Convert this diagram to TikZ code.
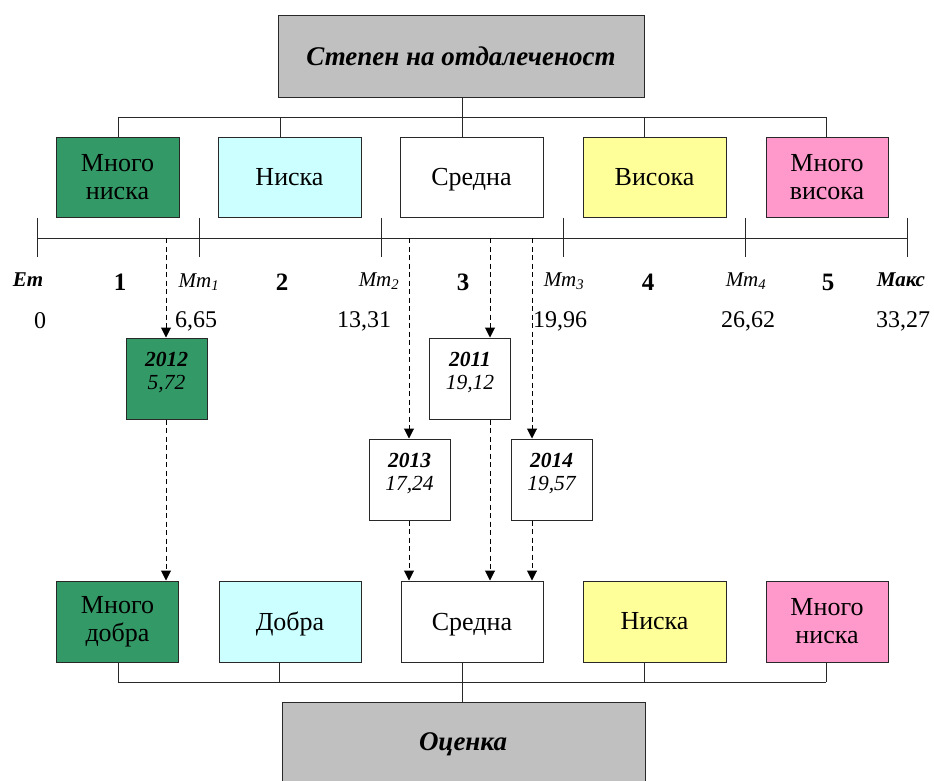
\documentclass[tikz,border=0pt]{standalone}
\usepackage{fontspec}
\setmainfont{Liberation Serif}
\usetikzlibrary{arrows.meta,calc}
\definecolor{cgreen}{RGB}{51,153,102}
\definecolor{ccyan}{RGB}{204,255,255}
\definecolor{cyellow}{RGB}{255,255,153}
\definecolor{cpink}{RGB}{255,153,204}
\definecolor{cgray}{RGB}{192,192,192}
\definecolor{cline}{RGB}{40,40,40}
\begin{document}
\begin{tikzpicture}[x=1pt,y=-1pt,
  box/.style={draw=cline, line width=1pt, inner sep=0pt, align=center,
    font=\fontsize{26}{28}\selectfont},
  big/.style={box, minimum height=80pt},
  yearbox/.style={draw=cline, line width=1pt, inner sep=0pt, fill=white,
    minimum width=81pt, minimum height=81pt},
  yeartext/.style={align=center, inner sep=0pt, font=\fontsize{21.5}{23}\selectfont\itshape},
  conn/.style={draw=cline, line width=1pt},
  dasharrow/.style={draw=black, line width=1pt, dash pattern=on 5pt off 3.5pt,
    -{Triangle[width=10pt,length=10pt]}},
  axislabel/.style={inner sep=0pt, font=\fontsize{21}{24}\selectfont\itshape},
  boldlabel/.style={inner sep=0pt, font=\fontsize{21}{24}\selectfont\bfseries\itshape},
  classnum/.style={inner sep=0pt, font=\fontsize{25}{28}\selectfont\bfseries},
  valnum/.style={inner sep=0pt, font=\fontsize{24}{27}\selectfont},
  headtext/.style={inner sep=0pt, font=\fontsize{27}{30}\selectfont\bfseries\itshape},
]
\clip (0,0) rectangle (934,780);
\fill[white] (0,0) rectangle (934,780);

% title
\node[box, fill=cgray, minimum width=366pt, minimum height=82pt,
  font=\fontsize{27}{30}\selectfont\bfseries\itshape] (title) at (461,56) {Степен на отдалеченост};

% top row
\node[big, fill=cgreen, minimum width=123pt] (t1) at (117.5,177) {Много\\ниска};
\node[big, fill=ccyan, minimum width=143pt] (t2) at (289.5,177) {Ниска};
\node[big, fill=white, minimum width=143pt, text depth=0pt] (t3) at (471.5,177) {Средна};
\node[big, fill=cyellow, minimum width=143pt] (t4) at (654.5,177) {Висока};
\node[big, fill=cpink, minimum width=122pt] (t5) at (827,177) {Много\\висока};

\coordinate (h1) at (118,117);
\coordinate (h2) at (280,117);
\coordinate (h3) at (462,117);
\coordinate (h4) at (644,117);
\coordinate (h5) at (826,117);
\draw[conn] (title.south -| h3) -- (h3);
\draw[conn] (h1) -- (h5);
\draw[conn] (h1) -- (h1 |- t1.north);
\draw[conn] (h2) -- (h2 |- t2.north);
\draw[conn] (h3) -- (h3 |- t3.north);
\draw[conn] (h4) -- (h4 |- t4.north);
\draw[conn] (h5) -- (h5 |- t5.north);

% axis
\coordinate (k0) at (37,238);
\coordinate (k1) at (199,238);
\coordinate (k2) at (381,238);
\coordinate (k3) at (563,238);
\coordinate (k4) at (745,238);
\coordinate (k5) at (907,238);
\draw[conn] (k0) -- (k5);
\foreach \k in {k0,k1,k2,k3,k4,k5}
  \draw[conn] ($(\k)+(0,-20)$) -- ($(\k)+(0,19)$);

\node[boldlabel] (lEm) at (28,280) {Ет};
\node[classnum] (c1) at (120,282) {1};
\node[axislabel] (lM1) at (199,282) {Мт\textsubscript{1}};
\node[classnum] (c2) at (282,282) {2};
\node[axislabel] (lM2) at (379,281) {Мт\textsubscript{2}};
\node[classnum] (c3) at (463,282) {3};
\node[axislabel] (lM3) at (564,281) {Мт\textsubscript{3}};
\node[classnum] (c4) at (648,282) {4};
\node[axislabel] (lM4) at (746,281) {Мт\textsubscript{4}};
\node[classnum] (c5) at (828,282) {5};
\node[boldlabel] (lMax) at (901,280) {Макс};

\node[valnum] (v0) at (40,321) {0};
\node[valnum] (v1) at (196,321) {6,65};
\node[valnum] (v2) at (364,321) {13,31};
\node[valnum] (v3) at (560,321) {19,96};
\node[valnum] (v4) at (748,321) {26,62};
\node[valnum] (v5) at (903,321) {33,27};

% year boxes
\node[yearbox, fill=cgreen] (y2012) at (166.5,378.5) {};
\node[yeartext] (t2012) at (166.5,372) {\textbf{2012}\\5,72};
\node[yearbox] (y2011) at (470,378.5) {};
\node[yeartext] (t2011) at (470,372) {\textbf{2011}\\19,12};
\node[yearbox] (y2013) at (409.5,479.5) {};
\node[yeartext] (t2013) at (409.5,473) {\textbf{2013}\\17,24};
\node[yearbox] (y2014) at (551.5,479.5) {};
\node[yeartext] (t2014) at (551.5,473) {\textbf{2014}\\19,57};

% bottom row
\node[big, fill=cgreen, minimum width=122pt, minimum height=81pt] (b1) at (117.5,621.5) {Много\\добра};
\node[big, fill=ccyan, minimum width=142pt, minimum height=81pt, text depth=0pt] (b2) at (290,621.5) {Добра};
\node[big, fill=white, minimum width=142pt, minimum height=81pt, text depth=0pt] (b3) at (472,621.5) {Средна};
\node[big, fill=cyellow, minimum width=143pt, minimum height=81pt] (b4) at (654.5,621.5) {Ниска};
\node[big, fill=cpink, minimum width=122pt, minimum height=81pt] (b5) at (827,621.5) {Много\\ниска};

% dashed arrows
\coordinate (a1) at (166,238);
\coordinate (a2) at (409,238);
\coordinate (a3) at (490,238);
\coordinate (a4) at (532,238);
\draw[dasharrow] (a1) -- (a1 |- y2012.north);
\draw[dasharrow] (a1 |- y2012.south) -- (a1 |- b1.north);
\draw[dasharrow] (a2) -- (a2 |- y2013.north);
\draw[dasharrow] (a2 |- y2013.south) -- (a2 |- b3.north);
\draw[dasharrow] (a3) -- (a3 |- y2011.north);
\draw[dasharrow] (a3 |- y2011.south) -- (a3 |- b3.north);
\draw[dasharrow] (a4) -- (a4 |- y2014.north);
\draw[dasharrow] (a4 |- y2014.south) -- (a4 |- b3.north);

% bottom box and connectors
\node[box, fill=cgray, minimum width=363pt, minimum height=100pt, anchor=north] (mark) at (463.5,702) {};
\node[headtext] (markt) at (463,744) {Оценка};
\coordinate (g1) at (118,682);
\coordinate (g2) at (279,682);
\coordinate (g3) at (462,682);
\coordinate (g4) at (644,682);
\coordinate (g5) at (826,682);
\draw[conn] (g1) -- (g5);
\draw[conn] (g1 |- b1.south) -- (g1);
\draw[conn] (g2 |- b2.south) -- (g2);
\draw[conn] (g3 |- b3.south) -- (g3);
\draw[conn] (g4 |- b4.south) -- (g4);
\draw[conn] (g5 |- b5.south) -- (g5);
\draw[conn] (g3) -- (g3 |- mark.north);
\end{tikzpicture}
\end{document}
